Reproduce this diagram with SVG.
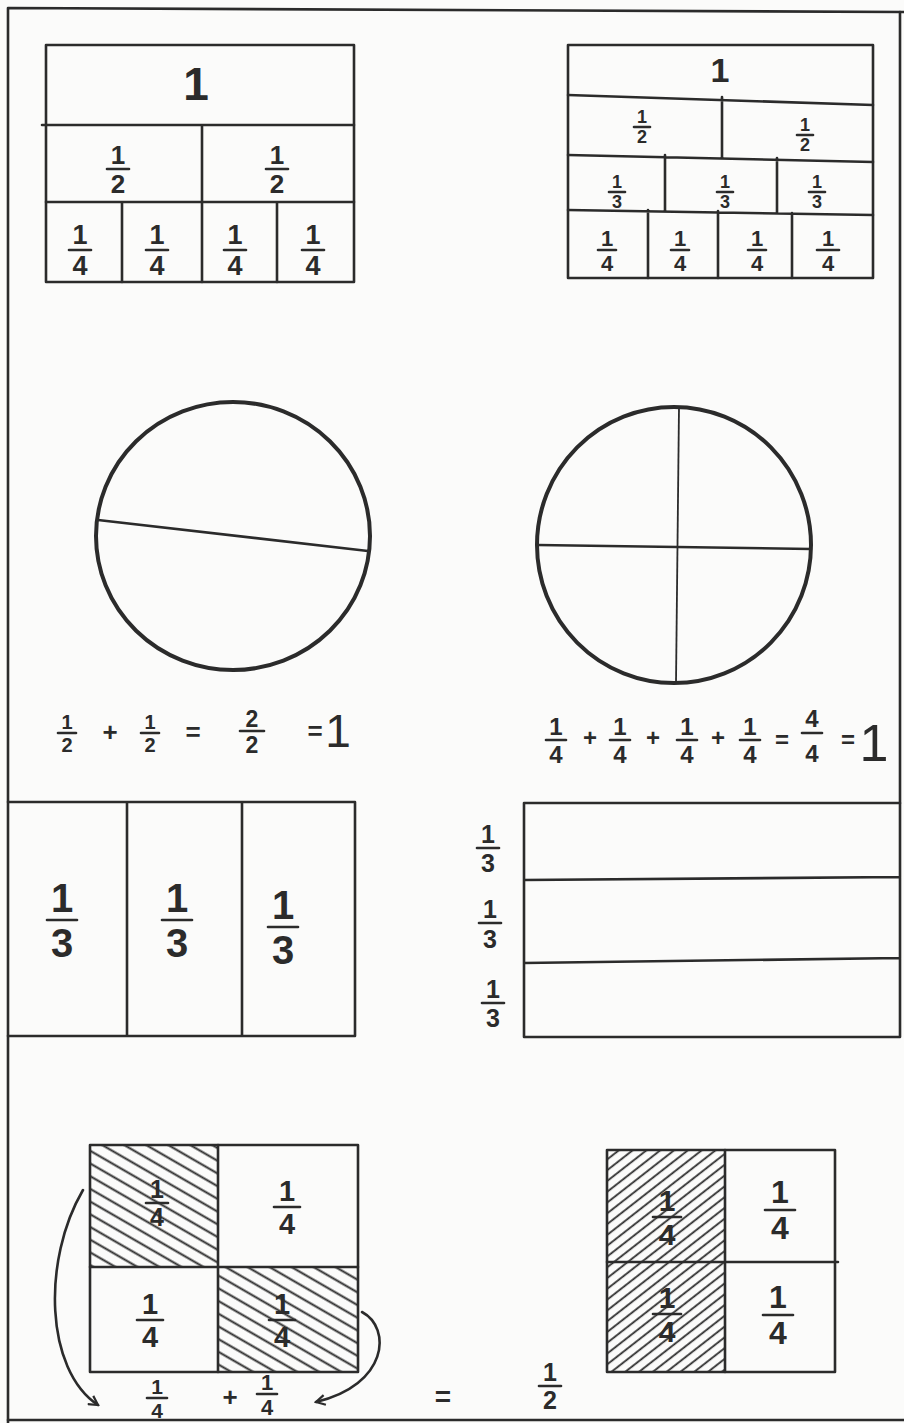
<svg xmlns="http://www.w3.org/2000/svg" width="904" height="1423" viewBox="0 0 904 1423">
<style>
.t{font-family:"Liberation Sans",Arial,sans-serif;font-weight:bold;fill:#2b2b2b;text-anchor:middle}
.big{font-weight:normal}
.ln{stroke:#2b2b2b;stroke-width:2.6;fill:none;stroke-linecap:round;stroke-linejoin:round}
.fb{stroke:#2b2b2b;stroke-width:2.6;stroke-linecap:round}
.thin{stroke:#2b2b2b;stroke-width:1.8;fill:none}
.circ{stroke:#2b2b2b;stroke-width:4;fill:none}
</style>
<defs>
<pattern id="hatchA" patternUnits="userSpaceOnUse" width="12" height="11" patternTransform="rotate(30)">
<path d="M0 5.5 H12" stroke="#2b2b2b" stroke-width="2"/>
</pattern>
<pattern id="hatchB" patternUnits="userSpaceOnUse" width="12" height="8.5" patternTransform="rotate(-38)">
<path d="M0 4 H12" stroke="#2b2b2b" stroke-width="1.8"/>
</pattern>
<marker id="arr" viewBox="0 0 12 12" refX="10" refY="6" markerWidth="12" markerHeight="12" markerUnits="userSpaceOnUse" orient="auto">
<path d="M1 1 L10 6 L1 11" fill="none" stroke="#2b2b2b" stroke-width="2.2"/>
</marker>
</defs>
<rect width="904" height="1423" fill="#fbfbfa"/>
<g id="page-border">
<path class="ln" d="M8 1423 L8 8 L904 12" stroke-width="3"/>
<path class="ln" d="M900 12 V803" stroke-width="2.4"/>
<path class="ln" d="M8 1420 L904 1420" stroke-width="3"/>
</g>

<g id="wall-left">
<rect class="ln" x="46" y="45" width="308" height="237"/>
<path class="ln" d="M42 125 H354 M46 202 H354 M202 125 V202 M122 202 V282 M202 202 V282 M277 202 V282"/>
<text class="t" x="196" y="100" font-size="46">1</text>
<text class="t" x="118" y="164" font-size="26">1</text><line class="fb" x1="107" y1="169" x2="129" y2="169"/><text class="t" x="118" y="193" font-size="26">2</text>
<text class="t" x="277" y="164" font-size="26">1</text><line class="fb" x1="266" y1="169" x2="288" y2="169"/><text class="t" x="277" y="193" font-size="26">2</text>
<text class="t" x="80" y="244" font-size="27">1</text><line class="fb" x1="69" y1="250" x2="91" y2="250"/><text class="t" x="80" y="275" font-size="27">4</text>
<text class="t" x="157" y="244" font-size="27">1</text><line class="fb" x1="146" y1="250" x2="168" y2="250"/><text class="t" x="157" y="275" font-size="27">4</text>
<text class="t" x="235" y="244" font-size="27">1</text><line class="fb" x1="224" y1="250" x2="246" y2="250"/><text class="t" x="235" y="275" font-size="27">4</text>
<text class="t" x="313" y="244" font-size="27">1</text><line class="fb" x1="302" y1="250" x2="324" y2="250"/><text class="t" x="313" y="275" font-size="27">4</text>
</g>

<g id="wall-right">
<rect class="ln" x="568" y="45" width="305" height="233"/>
<path class="ln" d="M568 95 L873 105 M568 155 L873 162 M568 210 L873 215 M722 97 V158 M665 155 V211 M777 158 V213 M648 210 V278 M718 211 V278 M792 213 V278"/>
<text class="t" x="720" y="82" font-size="34">1</text>
<text class="t" x="642" y="123" font-size="18">1</text><line class="fb" x1="634" y1="127" x2="650" y2="127"/><text class="t" x="642" y="143" font-size="18">2</text>
<text class="t" x="805" y="131" font-size="18">1</text><line class="fb" x1="797" y1="135" x2="813" y2="135"/><text class="t" x="805" y="151" font-size="18">2</text>
<text class="t" x="617" y="188" font-size="18">1</text><line class="fb" x1="609" y1="192" x2="625" y2="192"/><text class="t" x="617" y="208" font-size="18">3</text>
<text class="t" x="725" y="188" font-size="18">1</text><line class="fb" x1="717" y1="192" x2="733" y2="192"/><text class="t" x="725" y="208" font-size="18">3</text>
<text class="t" x="817" y="188" font-size="18">1</text><line class="fb" x1="809" y1="192" x2="825" y2="192"/><text class="t" x="817" y="208" font-size="18">3</text>
<text class="t" x="607" y="246" font-size="22">1</text><line class="fb" x1="598" y1="250" x2="616" y2="250"/><text class="t" x="607" y="271" font-size="22">4</text>
<text class="t" x="680" y="246" font-size="22">1</text><line class="fb" x1="671" y1="250" x2="689" y2="250"/><text class="t" x="680" y="271" font-size="22">4</text>
<text class="t" x="757" y="246" font-size="22">1</text><line class="fb" x1="748" y1="250" x2="766" y2="250"/><text class="t" x="757" y="271" font-size="22">4</text>
<text class="t" x="828" y="246" font-size="22">1</text><line class="fb" x1="817" y1="250" x2="839" y2="250"/><text class="t" x="828" y="271" font-size="22">4</text>
</g>

<g id="circle-halves">
<ellipse class="circ" cx="233" cy="536" rx="137" ry="134"/>
<line class="ln" x1="98" y1="520" x2="368" y2="551"/>
</g>

<g id="circle-quarters">
<ellipse class="circ" cx="674" cy="545" rx="137" ry="138"/>
<line class="ln" x1="538" y1="545" x2="811" y2="549"/>
<line class="thin" x1="679" y1="407" x2="676" y2="683"/>
</g>

<g id="equation-halves">
<text class="t" x="67" y="729" font-size="20">1</text><line class="fb" x1="58" y1="733" x2="76" y2="733"/><text class="t" x="67" y="752" font-size="20">2</text>
<text class="t" x="110" y="741" font-size="26">+</text>
<text class="t" x="150" y="729" font-size="20">1</text><line class="fb" x1="141" y1="733" x2="159" y2="733"/><text class="t" x="150" y="752" font-size="20">2</text>
<text class="t" x="193" y="741" font-size="26">=</text>
<text class="t" x="252" y="727" font-size="23">2</text><line class="fb" x1="240" y1="731" x2="264" y2="731"/><text class="t" x="252" y="753" font-size="23">2</text>
<text class="t" x="315" y="740" font-size="26">=</text>
<text class="t big" x="338" y="747" font-size="46">1</text>
</g>

<g id="equation-quarters">
<text class="t" x="556" y="735" font-size="24">1</text><line class="fb" x1="546" y1="740" x2="566" y2="740"/><text class="t" x="556" y="763" font-size="24">4</text>
<text class="t" x="590" y="746" font-size="24">+</text>
<text class="t" x="620" y="735" font-size="24">1</text><line class="fb" x1="610" y1="740" x2="630" y2="740"/><text class="t" x="620" y="763" font-size="24">4</text>
<text class="t" x="653" y="746" font-size="24">+</text>
<text class="t" x="687" y="735" font-size="24">1</text><line class="fb" x1="677" y1="740" x2="697" y2="740"/><text class="t" x="687" y="763" font-size="24">4</text>
<text class="t" x="718" y="746" font-size="24">+</text>
<text class="t" x="750" y="735" font-size="24">1</text><line class="fb" x1="740" y1="740" x2="760" y2="740"/><text class="t" x="750" y="763" font-size="24">4</text>
<text class="t" x="782" y="748" font-size="24">=</text>
<text class="t" x="812" y="727" font-size="24">4</text><line class="fb" x1="802" y1="733" x2="822" y2="733"/><text class="t" x="812" y="762" font-size="24">4</text>
<text class="t" x="848" y="748" font-size="24">=</text>
<text class="t big" x="874" y="761" font-size="52">1</text>
</g>

<g id="thirds-vertical">
<path class="ln" d="M8 802 H355 V1036 H8 M127 802 V1036 M242 802 V1036"/>
<text class="t" x="62" y="912" font-size="40">1</text><line class="fb" x1="47" y1="920" x2="77" y2="920"/><text class="t" x="62" y="957" font-size="40">3</text>
<text class="t" x="177" y="912" font-size="40">1</text><line class="fb" x1="162" y1="920" x2="192" y2="920"/><text class="t" x="177" y="957" font-size="40">3</text>
<text class="t" x="283" y="919" font-size="40">1</text><line class="fb" x1="268" y1="927" x2="298" y2="927"/><text class="t" x="283" y="964" font-size="40">3</text>
</g>

<g id="thirds-horizontal">
<path class="ln" d="M524 803 H900 V1037 H524 Z M524 880 L900 877 M524 963 L900 958"/>
<text class="t" x="488" y="843" font-size="25">1</text><line class="fb" x1="477" y1="848" x2="499" y2="848"/><text class="t" x="488" y="872" font-size="25">3</text>
<text class="t" x="490" y="918" font-size="25">1</text><line class="fb" x1="479" y1="923" x2="501" y2="923"/><text class="t" x="490" y="948" font-size="25">3</text>
<text class="t" x="493" y="998" font-size="25">1</text><line class="fb" x1="482" y1="1003" x2="504" y2="1003"/><text class="t" x="493" y="1027" font-size="25">3</text>
</g>

<g id="square-diagonal">
<rect x="90" y="1145" width="128" height="122" fill="url(#hatchA)"/>
<rect x="218" y="1267" width="140" height="105" fill="url(#hatchA)"/>
<rect class="ln" x="90" y="1145" width="268" height="227"/>
<path class="ln" d="M218 1145 V1372 M90 1267 H358"/>
<text class="t" x="157" y="1198" font-size="25">1</text><line class="fb" x1="146" y1="1203" x2="168" y2="1203"/><text class="t" x="157" y="1226" font-size="25">4</text>
<text class="t" x="287" y="1201" font-size="29">1</text><line class="fb" x1="274" y1="1207" x2="300" y2="1207"/><text class="t" x="287" y="1234" font-size="29">4</text>
<text class="t" x="150" y="1314" font-size="29">1</text><line class="fb" x1="137" y1="1320" x2="163" y2="1320"/><text class="t" x="150" y="1347" font-size="29">4</text>
<text class="t" x="282" y="1314" font-size="29">1</text><line class="fb" x1="269" y1="1320" x2="295" y2="1320"/><text class="t" x="282" y="1347" font-size="29">4</text>
</g>

<g id="sum-label">
<text class="t" x="157" y="1394" font-size="21">1</text><line class="fb" x1="147" y1="1398" x2="167" y2="1398"/><text class="t" x="157" y="1418" font-size="21">4</text>
<text class="t" x="230" y="1406" font-size="26">+</text>
<text class="t" x="267" y="1390" font-size="22">1</text><line class="fb" x1="257" y1="1394" x2="277" y2="1394"/><text class="t" x="267" y="1415" font-size="22">4</text>
<text class="t" x="443" y="1406" font-size="28">=</text>
<text class="t" x="550" y="1381" font-size="25">1</text><line class="fb" x1="539" y1="1386" x2="561" y2="1386"/><text class="t" x="550" y="1409" font-size="25">2</text>
</g>

<g id="square-column">
<rect x="607" y="1150" width="118" height="222" fill="url(#hatchB)"/>
<rect class="ln" x="607" y="1150" width="228" height="222"/>
<path class="ln" d="M725 1150 V1372 M607 1262 H838"/>
<text class="t" x="667" y="1211" font-size="30">1</text><line class="fb" x1="653" y1="1217" x2="681" y2="1217"/><text class="t" x="667" y="1245" font-size="30">4</text>
<text class="t" x="780" y="1203" font-size="32">1</text><line class="fb" x1="765" y1="1210" x2="795" y2="1210"/><text class="t" x="780" y="1239" font-size="32">4</text>
<text class="t" x="667" y="1308" font-size="30">1</text><line class="fb" x1="653" y1="1314" x2="681" y2="1314"/><text class="t" x="667" y="1342" font-size="30">4</text>
<text class="t" x="778" y="1308" font-size="32">1</text><line class="fb" x1="763" y1="1315" x2="793" y2="1315"/><text class="t" x="778" y="1344" font-size="32">4</text>
</g>

<g id="connectors">
<path class="ln" d="M83 1190 C 42 1260, 45 1370, 98 1405" marker-end="url(#arr)"/>
<path class="ln" d="M362 1312 C 392 1328, 388 1385, 316 1402" marker-end="url(#arr)"/>
</g>
</svg>
